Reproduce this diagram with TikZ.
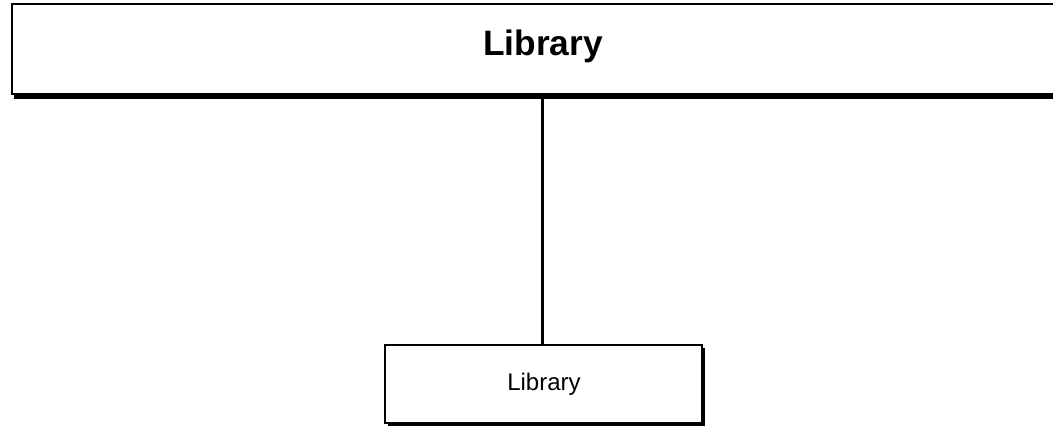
\documentclass[tikz,border=0pt]{standalone}
\usepackage{fontspec}
\setmainfont{Liberation Sans}
\begin{document}
\begin{tikzpicture}[x=0.75pt,y=-0.75pt,
  box/.style={draw=black,line width=1.5pt,fill=white,inner sep=0pt,anchor=north west},
  shadowbox/.style={fill=black,draw=none,inner sep=0pt,anchor=north west},
  conn/.style={draw=black,line width=1.6pt}]
\useasboundingbox (0,0) rectangle (1053,426);
% top box
\node[shadowbox,minimum width=1060*0.75pt,minimum height=90*0.75pt] at (14,8.5) {};
\node[box,minimum width=1060*0.75pt,minimum height=90*0.75pt] (top) at (11,3) {};
\node[font=\bfseries\fontsize{26.5}{31}\selectfont] (toplabel) at (543,46) {Library};
% bottom box
\node[shadowbox,minimum width=317*0.75pt,minimum height=78*0.75pt] at (388,347.5) {};
\node[box,minimum width=317*0.75pt,minimum height=78*0.75pt] (bot) at (384,343.5) {};
\node[font=\fontsize{18}{22}\selectfont] (botlabel) at (544,384) {Library};
\coordinate (topfoot) at (542.5,96);
\draw[conn] (topfoot) -- (topfoot |- bot.north);
\end{tikzpicture}
\end{document}
